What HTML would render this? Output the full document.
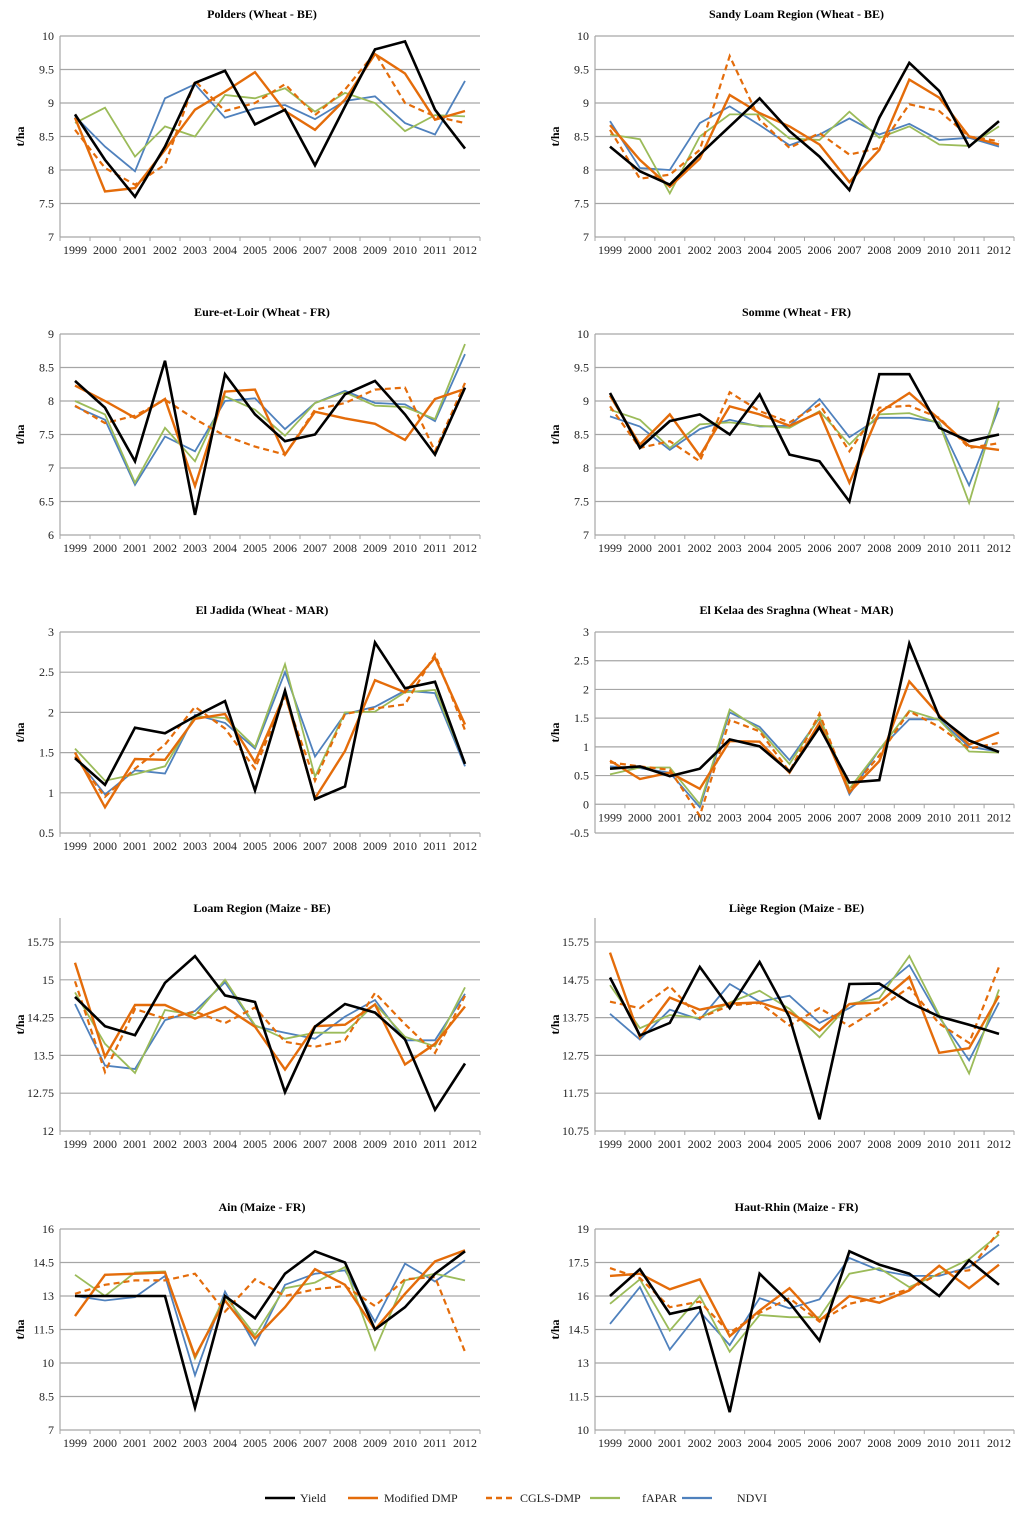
<!DOCTYPE html>
<html><head><meta charset="utf-8"><style>
html,body{margin:0;padding:0;background:#fff;}
svg{display:block;font-family:"Liberation Serif",serif;}
</style></head><body>
<svg id="chart" width="1024" height="1516" viewBox="0 0 1024 1516" xmlns="http://www.w3.org/2000/svg"></svg>
<script>
const years = ["1999","2000","2001","2002","2003","2004","2005","2006","2007","2008","2009","2010","2011","2012"];
const seriesNames = ["Yield","Modified DMP","CGLS-DMP","fAPAR","NDVI"];

const poldersYield = [8.83,8.15,7.6,8.35,9.3,9.48,8.68,8.9,8.07,8.95,9.8,9.92,8.9,8.32];
const poldersMod = [8.78,7.68,7.73,8.3,8.9,9.17,9.46,8.88,8.6,9.05,9.73,9.44,8.75,8.88];
const poldersCgls = [8.6,8.03,7.78,8.08,9.33,8.88,9.0,9.28,8.82,9.2,9.75,9.0,8.8,8.7];
const poldersFapar = [8.7,8.93,8.2,8.65,8.5,9.12,9.07,9.22,8.87,9.15,9.0,8.58,8.82,8.8];
const poldersNdvi = [8.8,8.35,7.98,9.07,9.28,8.78,8.92,8.97,8.76,9.03,9.1,8.7,8.53,9.33];

const sandyYield = [8.35,7.98,7.78,8.23,8.65,9.07,8.58,8.2,7.7,8.78,9.6,9.18,8.35,8.73];
const sandyMod = [8.67,8.15,7.75,8.17,9.12,8.85,8.65,8.38,7.82,8.3,9.35,9.08,8.5,8.38];
const sandyCgls = [8.6,7.87,7.93,8.3,9.7,8.75,8.33,8.55,8.23,8.33,8.98,8.88,8.5,8.43];
const sandyFapar = [8.53,8.46,7.65,8.5,8.83,8.83,8.47,8.45,8.87,8.48,8.65,8.38,8.36,8.65];
const sandyNdvi = [8.73,8.03,8.0,8.7,8.95,8.67,8.37,8.53,8.77,8.53,8.69,8.45,8.48,8.35];

const eureYield = [8.3,7.9,7.1,8.6,6.3,8.4,7.8,7.4,7.5,8.1,8.3,7.8,7.2,8.2];
const eureMod = [8.23,8.0,7.75,8.03,6.73,8.14,8.17,7.2,7.84,7.74,7.66,7.42,8.03,8.18];
const eureCgls = [7.93,7.67,7.78,8.02,7.73,7.48,7.32,7.2,7.87,7.97,8.17,8.2,7.25,8.27];
const eureFapar = [8.0,7.8,6.78,7.6,7.1,8.07,7.87,7.48,7.97,8.13,7.93,7.91,7.73,8.85];
const eureNdvi = [7.92,7.72,6.75,7.47,7.25,8.0,8.04,7.58,7.97,8.15,7.97,7.95,7.7,8.7];

const sommeYield = [9.12,8.3,8.7,8.8,8.5,9.1,8.2,8.1,7.5,9.4,9.4,8.6,8.4,8.5];
const sommeMod = [9.08,8.35,8.8,8.18,8.92,8.8,8.63,8.83,7.78,8.83,9.12,8.73,8.33,8.27];
const sommeCgls = [8.92,8.3,8.4,8.1,9.13,8.85,8.68,8.95,8.25,8.9,8.93,8.75,8.3,8.37];
const sommeFapar = [8.87,8.72,8.3,8.65,8.68,8.63,8.6,8.85,8.35,8.8,8.82,8.67,7.48,9.0];
const sommeNdvi = [8.77,8.62,8.27,8.58,8.72,8.62,8.63,9.03,8.46,8.75,8.75,8.68,7.74,8.9];

const jadidaYield = [1.43,1.1,1.81,1.74,1.95,2.14,1.03,2.27,0.92,1.08,2.87,2.3,2.38,1.36];
const jadidaMod = [1.5,0.82,1.42,1.41,1.92,1.98,1.38,2.23,0.93,1.52,2.4,2.25,2.68,1.85];
const jadidaCgls = [1.45,0.95,1.3,1.6,2.07,1.8,1.3,2.2,1.15,1.98,2.05,2.1,2.72,1.78];
const jadidaFapar = [1.55,1.15,1.23,1.33,1.95,1.93,1.57,2.6,1.2,2.0,2.01,2.25,2.28,1.37];
const jadidaNdvi = [1.45,0.98,1.28,1.24,1.97,1.87,1.55,2.5,1.45,1.98,2.07,2.27,2.24,1.33];

const kelaaYield = [0.62,0.66,0.49,0.62,1.13,1.01,0.57,1.34,0.38,0.42,2.8,1.52,1.11,0.91];
const kelaaMod = [0.76,0.44,0.55,0.27,1.1,1.09,0.55,1.42,0.21,0.75,2.14,1.55,1.04,1.25];
const kelaaCgls = [0.73,0.66,0.6,-0.2,1.47,1.27,0.57,1.58,0.23,0.85,1.62,1.35,0.97,1.07];
const kelaaFapar = [0.52,0.64,0.64,0.0,1.65,1.3,0.7,1.52,0.27,0.95,1.63,1.47,0.92,0.9];
const kelaaNdvi = [0.66,0.63,0.55,-0.05,1.6,1.35,0.77,1.5,0.17,0.95,1.48,1.48,1.0,0.92];

const loamYield = [14.66,14.08,13.9,14.94,15.47,14.69,14.56,12.77,14.07,14.52,14.35,13.82,12.42,13.34];
const loamMod = [15.34,13.47,14.5,14.5,14.23,14.46,14.07,13.22,14.08,14.11,14.51,13.32,13.73,14.47];
const loamCgls = [14.97,13.17,14.42,14.23,14.37,14.14,14.45,13.77,13.67,13.8,14.74,14.12,13.55,14.68];
const loamFapar = [14.75,13.73,13.15,14.4,14.3,15.0,14.1,13.83,13.95,13.95,14.52,13.87,13.68,14.85];
const loamNdvi = [14.52,13.3,13.23,14.2,14.38,14.95,14.08,13.95,13.83,14.27,14.6,13.8,13.8,14.72];

const liegeYield = [14.81,13.28,13.61,15.09,14.0,15.22,13.76,11.06,14.64,14.65,14.15,13.78,13.56,13.32];
const liegeMod = [15.47,13.23,14.28,13.96,14.12,14.15,13.89,13.41,14.11,14.15,14.83,12.82,12.94,14.33];
const liegeCgls = [14.17,14.0,14.58,13.74,14.07,14.14,13.54,14.0,13.52,14.0,14.55,13.59,13.08,15.09];
const liegeFapar = [14.61,13.47,13.82,13.74,14.15,14.46,13.98,13.23,14.11,14.26,15.38,13.82,12.27,14.49];
const liegeNdvi = [13.85,13.17,13.96,13.7,14.64,14.17,14.33,13.61,14.0,14.48,15.14,13.76,12.62,14.15];

const ainYield = [13,13,13,13,8.0,13.0,12.0,14.0,15.0,14.5,11.5,12.5,14.0,15.0];
const ainMod = [12.1,13.95,14.0,14.05,10.3,12.8,11.1,12.5,14.2,13.5,11.5,13.1,14.55,15.05];
const ainCgls = [13.1,13.5,13.7,13.7,14.0,12.3,13.75,13.0,13.3,13.45,12.55,13.75,13.85,10.5];
const ainFapar = [13.95,13.0,14.05,14.1,10.2,13.0,11.25,13.35,13.6,14.3,10.6,13.7,14.0,13.7];
const ainNdvi = [13.0,12.8,12.95,13.9,9.45,13.2,10.8,13.5,14.0,14.15,11.85,14.45,13.65,14.6];

const rhinYield = [16.0,17.2,15.2,15.5,10.8,17.0,15.7,14.0,18.0,17.4,17.0,16.0,17.6,16.5];
const rhinMod = [16.9,17.0,16.3,16.75,14.2,15.35,16.35,14.9,16.0,15.7,16.25,17.35,16.35,17.4];
const rhinCgls = [17.25,16.8,15.5,15.75,14.35,15.25,15.9,14.85,15.65,15.95,16.3,17.0,17.15,18.9];
const rhinFapar = [15.65,16.75,14.45,16.0,13.5,15.15,15.05,15.05,17.0,17.25,16.4,17.0,17.65,18.75];
const rhinNdvi = [14.75,16.4,13.6,15.3,13.8,15.9,15.45,15.85,17.7,17.15,16.9,16.9,17.3,18.3];

const wheatTicks = ["7","7.5","8","8.5","9","9.5","10"];
const eureTicks = ["6","6.5","7","7.5","8","8.5","9"];
const marTicks = ["0.5","1","1.5","2","2.5","3"];
const kelaaTicks = ["-0.5","0","0.5","1","1.5","2","2.5","3"];
const loamTicks = ["12","12.75","13.5","14.25","15","15.75"];
const liegeTicks = ["10.75","11.75","12.75","13.75","14.75","15.75"];
const ainTicks = ["7","8.5","10","11.5","13","14.5","16"];
const rhinTicks = ["10","11.5","13","14.5","16","17.5","19"];

const panels = [
 {id:"polders",title:"Polders (Wheat - BE)",col:0,row:0,ticks:wheatTicks,data:[poldersYield,poldersMod,poldersCgls,poldersFapar,poldersNdvi]},
 {id:"sandy-loam",title:"Sandy Loam Region (Wheat - BE)",col:1,row:0,ticks:wheatTicks,data:[sandyYield,sandyMod,sandyCgls,sandyFapar,sandyNdvi]},
 {id:"eure-et-loir",title:"Eure-et-Loir (Wheat - FR)",col:0,row:1,ticks:eureTicks,data:[eureYield,eureMod,eureCgls,eureFapar,eureNdvi]},
 {id:"somme",title:"Somme (Wheat - FR)",col:1,row:1,ticks:wheatTicks,data:[sommeYield,sommeMod,sommeCgls,sommeFapar,sommeNdvi]},
 {id:"el-jadida",title:"El Jadida (Wheat - MAR)",col:0,row:2,ticks:marTicks,data:[jadidaYield,jadidaMod,jadidaCgls,jadidaFapar,jadidaNdvi]},
 {id:"el-kelaa",title:"El Kelaa des Sraghna (Wheat - MAR)",col:1,row:2,ticks:kelaaTicks,axisAt:0,data:[kelaaYield,kelaaMod,kelaaCgls,kelaaFapar,kelaaNdvi]},
 {id:"loam-region",title:"Loam Region (Maize - BE)",col:0,row:3,ticks:loamTicks,data:[loamYield,loamMod,loamCgls,loamFapar,loamNdvi]},
 {id:"liege-region",title:"Liège Region (Maize - BE)",col:1,row:3,ticks:liegeTicks,data:[liegeYield,liegeMod,liegeCgls,liegeFapar,liegeNdvi]},
 {id:"ain",title:"Ain (Maize - FR)",col:0,row:4,ticks:ainTicks,data:[ainYield,ainMod,ainCgls,ainFapar,ainNdvi]},
 {id:"haut-rhin",title:"Haut-Rhin (Maize - FR)",col:1,row:4,ticks:rhinTicks,data:[rhinYield,rhinMod,rhinCgls,rhinFapar,rhinNdvi]}
];

const NS="http://www.w3.org/2000/svg";
const svg=document.getElementById("chart");
const colors=["#000000","#e46c0a","#e46c0a","#9bbb59","#4f81bd"];
const widths=[2.6,2.4,2.2,1.8,1.8];
const dashes=[null,null,"6,4",null,null];
const seriesKeys=["yield","modified-dmp","cgls-dmp","fapar","ndvi"];
function mk(tag,attrs,parent){const e=document.createElementNS(NS,tag);for(const k in attrs)e.setAttribute(k,attrs[k]);(parent||svg).appendChild(e);return e;}
const colX=[[60,480],[595,1014]];
const rowTop=[36,334,632,930,1229];
const rowH=201;

panels.forEach(p=>{
 const g=mk("g",{});
 
 
 const x0=colX[p.col][0],x1=colX[p.col][1];
 const y0=rowTop[p.row],y1=y0+rowH;
 const maize=(p.id==="loam-region"||p.id==="liege-region");
 const top=maize?y0-12:y0;
 const bw=(x1-x0)/years.length;
 const tmin=parseFloat(p.ticks[0]),tmax=parseFloat(p.ticks[p.ticks.length-1]);
 const gridTop=maize?y0+12:y0;
 const sy=v=>y1-(v-tmin)/(tmax-tmin)*(y1-gridTop);
 const sx=i=>x0+bw*(i+0.5);
 const t=mk("text",{x:(x0+x1)/2-8,y:y0-18,"text-anchor":"middle","font-size":"12","font-weight":"bold"},g);
 t.textContent=p.title;
 
 
 const yl=mk("text",{x:0,y:0,"text-anchor":"middle","font-size":"12","font-weight":"bold",transform:`translate(${x0-36},${(top+y1)/2}) rotate(-90)`},g);
 yl.textContent="t/ha";
 
 
 p.ticks.forEach(tk=>{
  const v=parseFloat(tk),yy=sy(v);
  const ln=mk("line",{x1:x0,x2:x1,y1:yy,y2:yy,stroke:"#a6a6a6","stroke-width":1.2},g);
  
  
  const tl=mk("text",{x:x0-6,y:yy+4,"text-anchor":"end","font-size":"12",fill:"#222"},g);
  tl.textContent=tk;
  
  
 });
 const ax=mk("line",{x1:x0,x2:x0,y1:top,y2:y1,stroke:"#a6a6a6","stroke-width":1.2},g);
 
 
 const axisY=p.axisAt!==undefined?sy(p.axisAt):y1;
 for(let i=0;i<=years.length;i++){
  const tm=mk("line",{x1:x0+bw*i,x2:x0+bw*i,y1:axisY,y2:axisY+4,stroke:"#a6a6a6","stroke-width":1},g);
  
  
 }
 years.forEach((yr,i)=>{
  const xl=mk("text",{x:sx(i),y:axisY+17,"text-anchor":"middle","font-size":"12",fill:"#222"},g);
  xl.textContent=yr;
  
  
 });
 [4,3,2,1,0].forEach(s=>{
  const pts=p.data[s].map((v,i)=>sx(i).toFixed(1)+","+sy(v).toFixed(1)).join(" ");
  const a={points:pts,fill:"none",stroke:colors[s],"stroke-width":widths[s],"stroke-linejoin":"miter"};
  if(dashes[s])a["stroke-dasharray"]=dashes[s];
  const pl=mk("polyline",a,g);
  
  
 });
});

// legend
const lg=mk("g",{});


const legX=[[265,300],[348,384],[486,520],[590,642],[682,737]];
seriesNames.forEach((n,s)=>{
 const ln=mk("line",{x1:legX[s][0],x2:legX[s][0]+30,y1:1498,y2:1498,stroke:colors[s],"stroke-width":s<3?2.6:2.2},lg);
 if(dashes[s])ln.setAttribute("stroke-dasharray","6,4");
 
 
 const tx=mk("text",{x:legX[s][1],y:1502,"font-size":"12",fill:"#222"},lg);
 tx.textContent=n;
 
 
});
</script>
</body></html>
